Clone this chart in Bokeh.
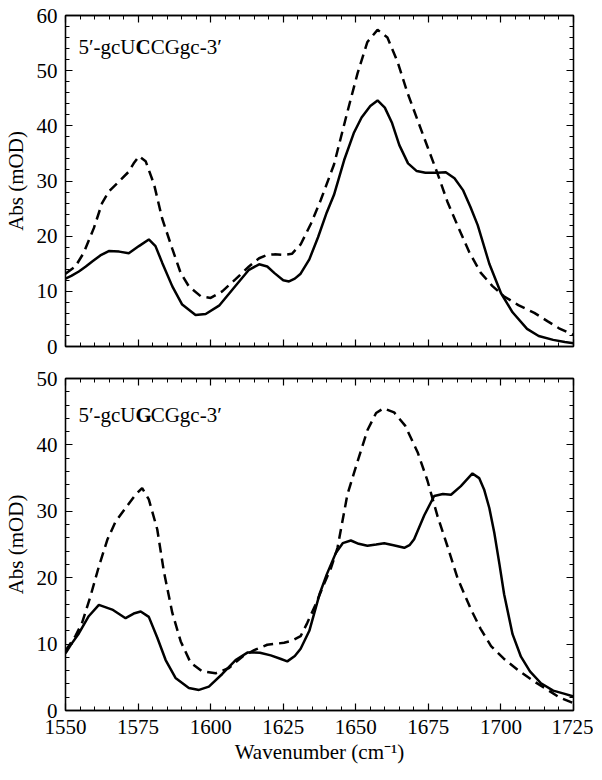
from bokeh.plotting import figure
from bokeh.models import LinearAxis, SingleIntervalTicker, Range1d, Label
from bokeh.layouts import column
from bokeh.embed import file_html
from bokeh.resources import INLINE

# ---- data: top panel (5'-gcUCCGgc-3') ----
top_solid_x = [1550, 1552, 1554.6, 1557, 1559.2, 1562, 1564.9, 1568.5, 1571.8, 1575.3, 1578.7, 1581, 1583.3,
               1586.8, 1590.2, 1594.8, 1598.3, 1602.9, 1608.6, 1613.2, 1616.7, 1619.5, 1622, 1625, 1627, 1629,
               1631, 1634, 1637, 1640, 1642.5, 1646, 1649.4, 1652, 1655, 1657.5, 1660, 1662.5, 1665, 1668,
               1671, 1674, 1678, 1681, 1684, 1687, 1689.5, 1692, 1696, 1700, 1704, 1709, 1713, 1718, 1722, 1725]
top_solid_y = [12.3, 12.8, 13.6, 14.5, 15.4, 16.5, 17.3, 17.2, 16.9, 18.2, 19.4, 18.2, 15.2,
               10.9, 7.6, 5.7, 5.9, 7.4, 11.0, 13.9, 14.9, 14.5, 13.3, 12.0, 11.8, 12.3,
               13.2, 15.8, 19.8, 24.3, 27.5, 33.8, 38.8, 41.5, 43.6, 44.6, 43.3, 40.5, 36.5, 33.2,
               31.8, 31.5, 31.5, 31.6, 30.5, 28.3, 25.3, 22.0, 15.0, 9.7, 6.2, 3.2, 1.9, 1.2, 0.8, 0.6]
top_dash_x = [1550, 1553.4, 1556.3, 1559.8, 1562.6, 1564.9, 1568.4, 1571.8, 1573.5, 1575.3, 1577.6, 1580.5,
              1583.3, 1586.8, 1589.7, 1592.5, 1596.6, 1600, 1604, 1608.6, 1613.2, 1616.7, 1619.5, 1622, 1625,
              1628, 1631, 1634.5, 1637.9, 1642.5, 1647.1, 1650.6, 1654, 1657.5, 1660.9, 1664.4, 1667.8,
              1671.3, 1674.7, 1678.2, 1681.6, 1685, 1689, 1693, 1697, 1701, 1706, 1711.5, 1716, 1720, 1725]
top_dash_y = [13.2, 14.5, 17.0, 21.5, 26.0, 28.1, 29.9, 31.7, 33.2, 34.5, 33.6, 29.4,
              23.2, 17.7, 13.3, 10.9, 9.1, 8.8, 10.0, 12.2, 14.5, 16.0, 16.6, 16.7, 16.6,
              16.8, 18.5, 22.2, 26.5, 33.0, 42.5, 49.5, 55.2, 57.4, 56.0, 51.6, 46.0,
              41.0, 36.2, 31.3, 26.2, 22.0, 17.2, 13.4, 11.0, 9.1, 7.5, 6.1, 4.6, 3.3, 2.1]

# ---- data: bottom panel (5'-gcUGCGgc-3') ----
bot_solid_x = [1550, 1552, 1554.6, 1558, 1561.5, 1566.1, 1570.7, 1573.5, 1575.9, 1578.7, 1581.6, 1584.5,
               1587.9, 1592.5, 1596, 1599.4, 1604, 1608.6, 1612.8, 1617, 1620.7, 1624, 1626.4, 1629, 1631,
               1634, 1637.5, 1640, 1643.1, 1645.5, 1648.3, 1651, 1654, 1657, 1659.8, 1663, 1666.7, 1668.5,
               1670.1, 1673.6, 1677, 1680, 1682.8, 1686.2, 1690.2, 1692.5, 1694.2, 1696, 1697.7, 1699.5,
               1701.1, 1704, 1706.9, 1710, 1713.8, 1718, 1722, 1725]
bot_solid_y = [8.6, 10.0, 11.6, 14.2, 15.9, 15.2, 13.9, 14.6, 14.9, 14.1, 11.0, 7.6,
               4.9, 3.4, 3.1, 3.6, 5.5, 7.6, 8.75, 8.7, 8.3, 7.8, 7.4, 8.2, 9.3,
               12.0, 17.5, 20.5, 23.7, 25.2, 25.6, 25.1, 24.8, 25.0, 25.2, 24.9, 24.5, 24.9,
               25.8, 29.4, 32.3, 32.6, 32.5, 33.8, 35.7, 35.0, 33.3, 30.5, 26.8, 22.0,
               17.5, 11.5, 8.1, 5.9, 4.1, 3.0, 2.5, 2.1]
bot_dash_x = [1550, 1553.4, 1555.7, 1558.6, 1561.5, 1564.4, 1567.2, 1570.7, 1574.1, 1576.4, 1578.7, 1581.6,
              1583.9, 1586.8, 1589.7, 1593.1, 1597.1, 1601.7, 1606.3, 1610.9, 1615, 1619.5, 1625.3, 1628,
              1631, 1633.3, 1636, 1639, 1641.5, 1643.7, 1647.1, 1650.6, 1654, 1657, 1659.5, 1663.2, 1667,
              1671.3, 1674.7, 1678.2, 1681.6, 1685, 1689.7, 1693, 1696.6, 1701, 1705.8, 1711, 1716.1, 1720, 1725]
bot_dash_y = [9.0, 11.2, 13.2, 17.2, 21.7, 25.7, 28.4, 30.5, 32.5, 33.5, 31.8, 27.3,
              20.9, 14.7, 10.4, 7.2, 5.9, 5.6, 6.4, 8.1, 9.1, 9.9, 10.2, 10.5,
              11.2, 13.2, 15.8, 19.0, 21.5, 24.5, 32.5, 37.5, 42.2, 44.8, 45.5, 44.9, 42.9,
              38.9, 34.6, 29.2, 24.7, 20.0, 15.2, 12.3, 9.7, 7.8, 6.1, 4.5, 3.1, 2.0, 1.1]

x_start, x_end = 1550, 1725
x_tick_step = 25
top_ymax, bot_ymax = 60, 50
y_tick_step = 10

FONT = "Liberation Serif"
FS = "21px"


def style_axis(ax, show_labels):
    ax.major_tick_in = 7
    ax.major_tick_out = 0
    ax.minor_tick_in = 4
    ax.minor_tick_out = 0
    ax.axis_line_color = "black"
    ax.axis_line_width = 1.3
    ax.major_tick_line_width = 1.2
    ax.minor_tick_line_width = 1.0
    ax.major_label_text_font = FONT
    ax.major_label_text_font_size = FS if show_labels else "0px"
    ax.major_label_text_color = "black"
    ax.axis_label_text_font = FONT
    ax.axis_label_text_font_size = FS
    ax.axis_label_text_font_style = "normal"
    ax.axis_label_text_color = "black"


def make_panel(ymax, sx, sy, dx, dy, bottom_labels, prefix, bold, suffix, label_y,
               min_top, min_bottom, fh):
    p = figure(frame_width=508, frame_height=fh, output_backend="svg", toolbar_location=None,
               x_range=Range1d(x_start, x_end), y_range=Range1d(0, ymax),
               min_border_left=57, min_border_right=20, min_border_top=min_top,
               min_border_bottom=min_bottom)
    p.xgrid.visible = False
    p.ygrid.visible = False
    p.outline_line_color = "black"
    p.outline_line_width = 1.3
    p.background_fill_color = "white"
    p.border_fill_color = "white"

    p.xaxis.ticker = SingleIntervalTicker(interval=x_tick_step, num_minor_ticks=5)
    p.yaxis.ticker = SingleIntervalTicker(interval=y_tick_step, num_minor_ticks=5)
    style_axis(p.xaxis[0], bottom_labels)
    style_axis(p.yaxis[0], True)
    p.yaxis.axis_label = "Abs (mOD)"
    p.yaxis.major_label_standoff = 8
    p.yaxis.axis_label_standoff = 6
    p.xaxis.major_label_standoff = 9 if bottom_labels else 0
    if bottom_labels:
        p.xaxis.axis_label = "Wavenumber (cm\u207b\u00b9)"
        p.xaxis.axis_label_standoff = 3

    ra = LinearAxis(ticker=SingleIntervalTicker(interval=y_tick_step, num_minor_ticks=5))
    style_axis(ra, False)
    ra.major_label_standoff = 0
    p.add_layout(ra, "right")
    ta = LinearAxis(ticker=SingleIntervalTicker(interval=x_tick_step, num_minor_ticks=5))
    style_axis(ta, False)
    ta.major_label_standoff = 0
    p.add_layout(ta, "above")

    p.line(dx, dy, line_color="black", line_width=2.5, line_dash="10 6")
    p.line(sx, sy, line_color="black", line_width=2.5)

    x0 = 1574.1
    common = dict(y=label_y, text_font=FONT, text_font_size=FS, text_color="black",
                  text_baseline="alphabetic")
    p.add_layout(Label(x=x0, text=prefix, text_align="right", **common))
    p.add_layout(Label(x=x0, text=bold, text_align="left", text_font_style="bold", **common))
    p.add_layout(Label(x=x0, x_offset=15.2, text=suffix, text_align="left", **common))
    return p


p1 = make_panel(top_ymax, top_solid_x, top_solid_y, top_dash_x, top_dash_y, False,
                "5\u2032-gcU", "C", "CGgc-3\u2032", 54.2, 15, 13, 331)
p2 = make_panel(bot_ymax, bot_solid_x, bot_solid_y, bot_dash_x, bot_dash_y, True,
                "5\u2032-gcU", "G", "CGgc-3\u2032", 44.5, 19, 58, 332)

layout = column(p1, p2, spacing=0)
open("out.html", "w").write(file_html(layout, INLINE))
